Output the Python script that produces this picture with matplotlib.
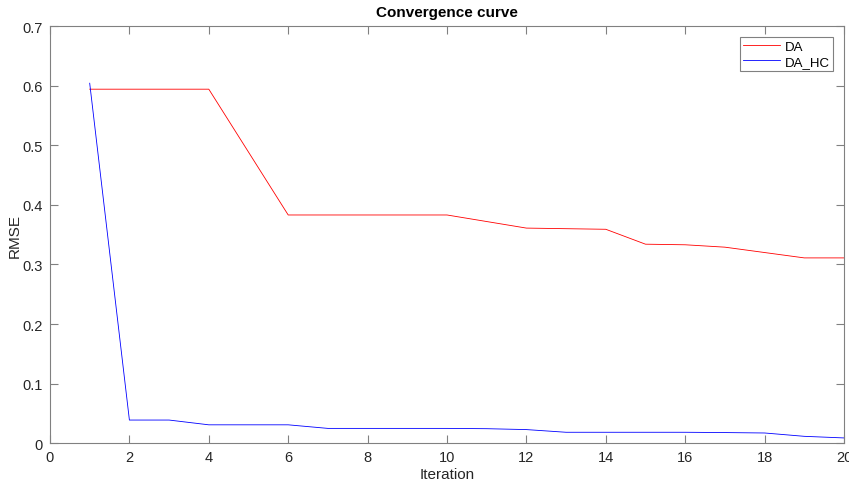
import matplotlib
matplotlib.use("Agg")
import matplotlib.pyplot as plt

iterations = list(range(1, 21))
da = [0.594, 0.594, 0.594, 0.594, 0.4885, 0.383, 0.383, 0.383, 0.383, 0.383,
      0.372, 0.361, 0.360, 0.359, 0.334, 0.333, 0.329, 0.320, 0.311, 0.311]
da_hc = [0.604, 0.039, 0.039, 0.031, 0.031, 0.031, 0.025, 0.025, 0.025, 0.025,
         0.0245, 0.023, 0.0185, 0.0185, 0.0185, 0.0185, 0.018, 0.0173, 0.0117, 0.009]
xticks = list(range(0, 21, 2))
yticks = [0, 0.1, 0.2, 0.3, 0.4, 0.5, 0.6, 0.7]

plt.rcParams['font.family'] = ['Liberation Sans', 'DejaVu Sans']

fig = plt.figure(figsize=(8.49, 4.81), dpi=100)
ax = fig.add_axes([50/849, 1-444.3/481, (844-50)/849, (444.3-27)/481])

ax.plot(iterations, da, color='#ff0000', lw=0.6, label='DA')
ax.plot(iterations, da_hc, color='#0000ff', lw=0.6, label='DA_HC')

ax.set_xlim(0, 20)
ax.set_ylim(0, 0.7)
ax.set_xticks(xticks)
ax.set_yticks(yticks)
ax.set_yticklabels(['0', '0.1', '0.2', '0.3', '0.4', '0.5', '0.6', '0.7'])

axcol = '#262626'
for s in ax.spines.values():
    s.set_color('#808080')
    s.set_linewidth(0.8)
ax.tick_params(direction='in', length=6, width=0.8, color='#808080',
               labelsize=10.5, labelcolor=axcol, top=True, right=True, pad=5)

ax.set_title('Convergence curve', fontsize=11, fontweight='bold', color='black', pad=7)
ax.set_xlabel('Iteration', fontsize=11, color=axcol, labelpad=2)
ax.set_ylabel('RMSE', fontsize=11, color=axcol, labelpad=1)

leg = ax.legend(loc='upper right', fontsize=9.5, frameon=True, fancybox=False,
                edgecolor='#808080', framealpha=1, borderaxespad=0.85,
                handlelength=2.8, handletextpad=0.35, borderpad=0.25, labelspacing=0.2)
leg.get_frame().set_linewidth(0.8)

fig.savefig('out.png', dpi=100)
